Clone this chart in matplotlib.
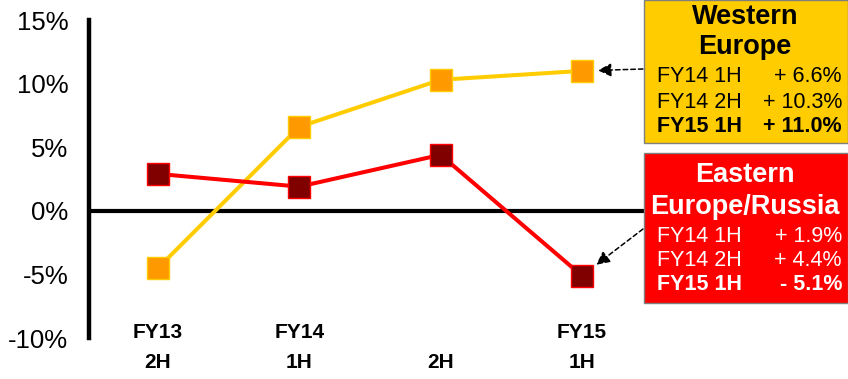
import numpy as np
import matplotlib.pyplot as plt
from matplotlib.patches import Rectangle
from matplotlib.ticker import FuncFormatter

plt.rcParams['font.family'] = ['Liberation Sans', 'DejaVu Sans']

periods = ['FY13\n2H', 'FY14\n1H', '\n2H', 'FY15\n1H']
western = [-4.5, 6.6, 10.3, 11.0]
eastern = [2.9, 1.9, 4.4, -5.1]
yticks = [-10, -5, 0, 5, 10, 15]

west_rows = [('FY14 1H', '+ 6.6%'), ('FY14 2H', '+ 10.3%'), ('FY15 1H', '+ 11.0%')]
east_rows = [('FY14 1H', '+ 1.9%'), ('FY14 2H', '+ 4.4%'), ('FY15 1H', '- 5.1%')]

W, H = 848, 379
fig = plt.figure(figsize=(W / 100, H / 100), dpi=100)
ax = fig.add_axes([89 / W, 41 / H, (W - 89) / W, 318 / H])

x = np.arange(len(periods))
ax.plot(x, western, color='#FFCC00', lw=2.9, marker='s', ms=15.5,
        mfc='#FF9900', mec='#FFCC00', mew=1, zorder=3)
ax.plot(x, eastern, color='#FF0000', lw=2.9, marker='s', ms=15.5,
        mfc='#800000', mec='#FF0000', mew=1, zorder=3)

ax.set_xlim(-0.488, 4.883)
ax.set_ylim(-10, 15)
ax.axhline(0, xmin=0, xmax=(643 - 89) / (W - 89), color='black', lw=3, zorder=2)

for s in ['top', 'right', 'bottom']:
    ax.spines[s].set_visible(False)
ax.spines['left'].set_linewidth(3.2)
ax.set_yticks(yticks)
ax.yaxis.set_major_formatter(FuncFormatter(lambda v, p: f'{v:.0f}%'))
ax.tick_params(axis='y', length=0, pad=15, labelsize=18.5)
ax.set_xticks([])

# two-line category labels, each line placed on its own
for i, lab in enumerate(periods):
    top, bottom = lab.split('\n')
    for txt, off in [(top, 6), (bottom, -24)]:
        if txt:
            ax.annotate(txt, xy=(i, 0), xycoords=('data', 'axes fraction'),
                        xytext=(0, off), textcoords='offset pixels',
                        ha='center', va='center', fontsize=15,
                        fontweight='bold', annotation_clip=False)


def fx(px):
    return px / W


def fy(py):
    return 1 - py / H


# Western Europe box
fig.patches.append(Rectangle((fx(644), fy(143)), (W - 644) / W, 143 / H,
                             transform=fig.transFigure, fc='#FFCC00',
                             ec='#7f7f7f', lw=1))
fig.text(fx(745), fy(17), 'Western', ha='center', va='center',
         fontsize=19.5, fontweight='bold')
fig.text(fx(745), fy(47), 'Europe', ha='center', va='center',
         fontsize=19.5, fontweight='bold')
for k, (a, b) in enumerate(west_rows):
    yy = fy(77 + 25 * k)
    w = 'bold' if k == 2 else 'normal'
    fig.text(fx(657), yy, a, ha='left', va='center', fontsize=15.5, fontweight=w)
    fig.text(fx(842), yy, b, ha='right', va='center', fontsize=15.5, fontweight=w)

# Eastern Europe box
fig.patches.append(Rectangle((fx(644), fy(303)), (W - 644) / W, 150 / H,
                             transform=fig.transFigure, fc='#FF0000',
                             ec='#7f7f7f', lw=1))
fig.text(fx(745), fy(175), 'Eastern', ha='center', va='center',
         fontsize=19.5, fontweight='bold', color='white')
fig.text(fx(745), fy(207), 'Europe/Russia', ha='center', va='center',
         fontsize=19.5, fontweight='bold', color='white')
for k, (a, b) in enumerate(east_rows):
    yy = fy(236 + 24.5 * k)
    w = 'bold' if k == 2 else 'normal'
    fig.text(fx(657), yy, a, ha='left', va='center', fontsize=15.5,
             fontweight=w, color='white')
    fig.text(fx(842), yy, b, ha='right', va='center', fontsize=15.5,
             fontweight=w, color='white')

# dashed arrows from boxes to last points
arrow = dict(arrowstyle='-|>', ls=(0, (3, 2)), color='black', lw=1.1,
             mutation_scale=20, shrinkA=0)
ax.annotate('', xy=(3, western[-1]), xytext=(643, H - 69),
            textcoords='figure pixels',
            arrowprops=dict(arrow, shrinkB=11.5), zorder=4)
ax.annotate('', xy=(3, eastern[-1]), xytext=(643, H - 229),
            textcoords='figure pixels',
            arrowprops=dict(arrow, shrinkB=13), zorder=4)

fig.savefig('out.png', dpi=100)
